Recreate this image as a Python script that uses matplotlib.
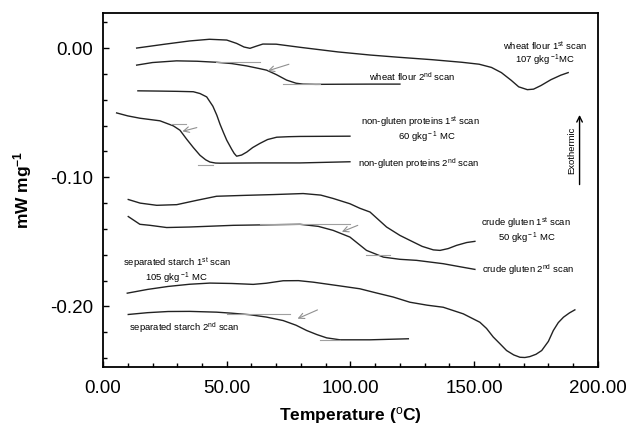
import numpy as np
import matplotlib.pyplot as plt
from matplotlib.ticker import MultipleLocator, FormatStrFormatter

plt.rcParams['font.family'] = ['Liberation Sans', 'DejaVu Sans']
plt.rcParams['mathtext.fontset'] = 'custom'
plt.rcParams['mathtext.rm'] = 'Liberation Sans'
plt.rcParams['mathtext.it'] = 'Liberation Sans:italic'
plt.rcParams['mathtext.bf'] = 'Liberation Sans:bold'

# DSC traces: temperature [C], heat flow [mW/mg]
wf1_t = [13.6, 25, 35, 43, 50, 54, 57, 59.4, 62, 64.6, 70, 80, 95, 108, 120, 133, 145, 152, 157, 161, 165, 168, 171.5, 174, 177, 181, 185, 188]
wf1_q = [0.0, 0.003, 0.0055, 0.0068, 0.0062, 0.0036, 0.0008, -0.0002, 0.0015, 0.0031, 0.003, 0.0005, -0.003, -0.0054, -0.0072, -0.009, -0.011, -0.0125, -0.015, -0.019, -0.025, -0.030, -0.0322, -0.0318, -0.029, -0.0245, -0.021, -0.019]

wf2_t = [13.6, 20, 29.7, 38, 45.9, 52, 58, 63, 66.1, 70, 74.2, 78, 80.8, 86, 95, 107.9, 120]
wf2_q = [-0.0132, -0.0112, -0.0099, -0.0102, -0.0110, -0.0120, -0.0138, -0.0158, -0.0171, -0.0205, -0.0248, -0.0272, -0.0279, -0.0281, -0.0280, -0.0279, -0.0279]

ng1_t = [14.1, 22.9, 30, 36.5, 39.2, 41.9, 44.4, 46, 47.3, 48.7, 50, 52, 53, 54, 56, 58.1, 60.5, 63.4, 66.5, 70.2, 75, 79.6, 90, 99.8]
ng1_q = [-0.0331, -0.0333, -0.0335, -0.0338, -0.0352, -0.0378, -0.0450, -0.0520, -0.0590, -0.0655, -0.0713, -0.0783, -0.0815, -0.0837, -0.0828, -0.0805, -0.0770, -0.0738, -0.0708, -0.0690, -0.0686, -0.0684, -0.0683, -0.0682]

ng2_t = [5.5, 10, 14.9, 23.0, 28.4, 31.1, 33.8, 36.5, 39.2, 41.5, 43.2, 45.5, 47.3, 55, 63.4, 79.6, 99.8]
ng2_q = [-0.0502, -0.0525, -0.0543, -0.0563, -0.0602, -0.0636, -0.0705, -0.0770, -0.0830, -0.0865, -0.0882, -0.0890, -0.0891, -0.0890, -0.0889, -0.0889, -0.0880]

cg1_t = [10.2, 15, 21.7, 29.8, 38, 45.9, 57.4, 68.8, 80.9, 88, 93.0, 99.8, 103.8, 107.9, 114.6, 120, 124, 129, 133.5, 136.2, 139.5, 142.9, 147, 150.3]
cg1_q = [-0.1172, -0.1200, -0.1217, -0.1212, -0.1178, -0.1147, -0.1140, -0.1134, -0.1126, -0.1138, -0.1164, -0.1205, -0.1240, -0.1269, -0.1385, -0.1450, -0.1488, -0.1535, -0.1562, -0.1566, -0.1552, -0.1527, -0.1505, -0.1496]

cg2_t = [10.2, 14.9, 19.0, 25.7, 35, 52.6, 79.6, 87, 93.0, 99.8, 106.5, 113.3, 120, 126.7, 137.5, 145, 150.3]
cg2_q = [-0.1304, -0.1364, -0.1372, -0.1389, -0.1385, -0.1372, -0.1364, -0.1380, -0.1411, -0.1463, -0.1566, -0.1618, -0.1635, -0.1643, -0.1669, -0.1695, -0.1713]

ss1_t = [9.8, 18, 26.3, 35, 43.2, 52, 60.7, 66, 72.8, 79, 85.0, 95.8, 103.8, 110, 117.3, 124.0, 131, 137.5, 145.6, 152.3, 155, 157.7, 160.5, 163.1, 166, 168.5, 170.5, 172.5, 175, 177.3, 180, 182.0, 184, 186.1, 188.5, 190.7]
ss1_q = [-0.1897, -0.1868, -0.1845, -0.1828, -0.1819, -0.1822, -0.1829, -0.1820, -0.1801, -0.1800, -0.1812, -0.1841, -0.1863, -0.1893, -0.1927, -0.1967, -0.1990, -0.2006, -0.2057, -0.2122, -0.2170, -0.2236, -0.2290, -0.2341, -0.2375, -0.2393, -0.2395, -0.2388, -0.2370, -0.2341, -0.2270, -0.2186, -0.2125, -0.2083, -0.2050, -0.2026]

ss2_t = [10.2, 18, 26.3, 35, 45.9, 52, 59.4, 66, 72.8, 78, 82.3, 86.5, 90.4, 95.8, 107.9, 123.4]
ss2_q = [-0.2062, -0.2048, -0.2039, -0.2038, -0.2044, -0.2052, -0.2064, -0.2082, -0.2109, -0.2145, -0.2186, -0.2218, -0.2243, -0.2258, -0.2258, -0.2250]

# grey construction lines (onset baselines) and direction arrows
base_t = [[45.7, 63.4], [72.7, 87.7], [27.5, 33.5], [38.5, 44.5], [63.4, 99.8], [106.3, 116.0], [50.0, 75.6], [87.7, 95.8]]
base_q = [[-0.0109, -0.0109], [-0.0279, -0.0279], [-0.0590, -0.0590], [-0.0905, -0.0905], [-0.1364, -0.1364], [-0.1605, -0.1605], [-0.2057, -0.2057], [-0.2258, -0.2258]]
arrow_from = [(76.2, -0.0119), (39.0, -0.0610), (104.0, -0.1364), (87.7, -0.2018)]
arrow_to = [(65.5, -0.0183), (31.0, -0.0650), (95.5, -0.1430), (77.6, -0.2103)]

curves = [(wf1_t, wf1_q), (wf2_t, wf2_q), (ng1_t, ng1_q), (ng2_t, ng2_q),
          (cg1_t, cg1_q), (cg2_t, cg2_q), (ss1_t, ss1_q), (ss2_t, ss2_q)]

fig = plt.figure(figsize=(6.32, 4.25), dpi=100)
ax = fig.add_axes([0.163, 0.136, 0.783, 0.833])

for t, q in curves:
    ax.plot(t, q, color='#222222', linewidth=1.0)

for t, q in zip(base_t, base_q):
    ax.plot(t, q, color='#a0a0a0', linewidth=0.8)
for a, b in zip(arrow_from, arrow_to):
    ax.annotate('', xy=b, xytext=a,
                arrowprops=dict(arrowstyle='->', color='#909090', lw=0.8))

# labels
fs = 6.8
ax.text(178.6, 0.0015, r'wheat flour 1$^{\rm st}$ scan', fontsize=fs, ha='center', va='center')
ax.text(178.6, -0.0097, r'107 gkg$^{\rm -1}$MC', fontsize=fs, ha='center', va='center')
ax.text(107.5, -0.0222, r'wheat flour 2$^{\rm nd}$ scan', fontsize=fs, ha='left', va='center')
ax.text(128.4, -0.0575, r'non-gluten proteins 1$^{\rm st}$ scan', fontsize=fs, ha='center', va='center')
ax.text(130.8, -0.0688, r'60 gkg$^{\rm -1}$ MC', fontsize=fs, ha='center', va='center')
ax.text(103.0, -0.0894, r'non-gluten proteins 2$^{\rm nd}$ scan', fontsize=fs, ha='left', va='center')
ax.text(171.0, -0.1354, r'crude gluten 1$^{\rm st}$ scan', fontsize=fs, ha='center', va='center')
ax.text(171.2, -0.1472, r'50 gkg$^{\rm -1}$ MC', fontsize=fs, ha='center', va='center')
ax.text(153.1, -0.1713, r'crude gluten 2$^{\rm nd}$ scan', fontsize=fs, ha='left', va='center')
ax.text(30.1, -0.1664, r'separated starch 1$^{\rm st}$ scan', fontsize=fs, ha='center', va='center')
ax.text(29.8, -0.1782, r'105 gkg$^{\rm -1}$ MC', fontsize=fs, ha='center', va='center')
ax.text(32.7, -0.2165, r'separated starch 2$^{\rm nd}$ scan', fontsize=fs, ha='center', va='center')

ax.text(189.3, -0.079, 'Exothermic', fontsize=fs, rotation=90, ha='center', va='center')
ax.annotate('', xy=(192.6, -0.0496), xytext=(192.6, -0.1078),
            arrowprops=dict(arrowstyle='->', color='black', lw=1.0))

ax.set_xlim(0, 200)
ax.set_ylim(-0.247, 0.027)
ax.xaxis.set_major_locator(MultipleLocator(50))
ax.xaxis.set_minor_locator(MultipleLocator(10))
ax.yaxis.set_major_locator(MultipleLocator(0.1))
ax.yaxis.set_minor_locator(MultipleLocator(0.02))
ax.xaxis.set_major_formatter(FormatStrFormatter('%.2f'))
ax.yaxis.set_major_formatter(FormatStrFormatter('%.2f'))
ax.tick_params(which='both', direction='in', top=False, right=False, labelsize=13.5, width=1.0)
ax.tick_params(which='major', length=4)
ax.tick_params(which='minor', length=3)
ax.tick_params(axis='x', pad=9)
ax.tick_params(axis='y', pad=7)
for s in ax.spines.values():
    s.set_linewidth(1.3)

ax.set_xlabel(r'Temperature ($^{\rm o}$C)', fontsize=12.5, fontweight='bold', labelpad=6)
ax.set_ylabel(r'mW mg$^{\mathbf{-1}}$', fontsize=12.5, fontweight='bold', labelpad=12)

fig.savefig('out.png', dpi=100)
